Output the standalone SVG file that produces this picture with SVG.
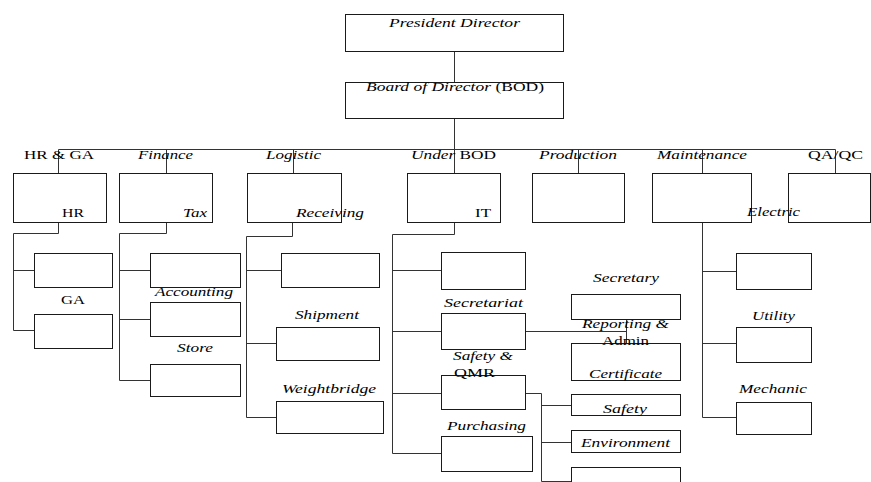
<svg xmlns="http://www.w3.org/2000/svg" width="871" height="482" viewBox="0 0 871 482">
<style>
rect{fill:#fff;stroke:#1a1a1a;stroke-width:1}
.c path{fill:none;stroke:#333;stroke-width:1}
text{font-family:"Liberation Serif","Times New Roman",serif;font-size:13px;fill:#000}
.i{font-style:italic}
</style>
<rect x="0" y="0" width="871" height="482" style="stroke:none;fill:#fff"/>
<g class="c" id="connectors">
<path d="M454.5,51 V82 M454.5,118 V149.5 M58.5,149.5 H835.5"/>
<path d="M58.5,149.5 V173 M166.5,149.5 V173 M293.5,149.5 V173 M454.5,149.5 V173 M578.5,149.5 V173 M702.5,149.5 V173 M835.5,149.5 V173"/>
<path d="M58.5,222 V233.5 H13.5 V330.5 M13.5,270.5 H34 M13.5,330.5 H34"/>
<path d="M166.5,222 V233.5 H119.5 V380.5 M119.5,270.5 H150 M119.5,319.5 H150 M119.5,380.5 H150"/>
<path d="M292.5,222 V236.5 H246.5 V417.5 M246.5,270.5 H281 M246.5,343.5 H276 M246.5,417.5 H276"/>
<path d="M454.5,222 V234.5 H392.5 V453.5 M392.5,270.5 H441 M392.5,331.5 H441 M392.5,393.5 H441 M392.5,453.5 H441"/>
<path d="M525,331.5 H626.5 M626.5,319 V343"/>
<path d="M525,393.5 H541.5 V481.5 M541.5,405.5 H571 M541.5,442.5 H571 M541.5,481.5 H571"/>
<path d="M702.5,222 V417.5 M702.5,271.5 H736 M702.5,343.5 H736 M702.5,417.5 H736"/>
</g>
<g id="president-director">
<rect x="345.5" y="14.5" width="218" height="37"/>
<text class="i" x="389" y="27" textLength="131" lengthAdjust="spacingAndGlyphs">President Director</text>
</g>
<g id="board-of-director">
<rect x="345.5" y="82.5" width="218" height="36"/>
<text x="366" y="91" textLength="178" lengthAdjust="spacingAndGlyphs"><tspan class="i">Board of Director</tspan> (BOD)</text>
</g>
<g id="hr-ga">
<text x="24" y="159" textLength="70" lengthAdjust="spacingAndGlyphs">HR &amp; GA</text>
<rect x="13.5" y="173.5" width="93" height="49"/>
<text x="62" y="217" textLength="22" lengthAdjust="spacingAndGlyphs">HR</text>
</g>
<g id="hr-sub">
<rect x="34.5" y="253.5" width="78" height="34"/>
</g>
<g id="ga">
<text x="61" y="304" textLength="24" lengthAdjust="spacingAndGlyphs">GA</text>
<rect x="34.5" y="314.5" width="78" height="34"/>
</g>
<g id="finance">
<text class="i" x="138" y="159" textLength="55" lengthAdjust="spacingAndGlyphs">Finance</text>
<rect x="119.5" y="173.5" width="93" height="49"/>
<text class="i" x="183" y="217" textLength="24" lengthAdjust="spacingAndGlyphs">Tax</text>
</g>
<g id="tax">
<rect x="150.5" y="253.5" width="90" height="34"/>
</g>
<g id="accounting">
<text class="i" x="155" y="296" textLength="78" lengthAdjust="spacingAndGlyphs">Accounting</text>
<rect x="150.5" y="302.5" width="90" height="34"/>
</g>
<g id="store">
<text class="i" x="177" y="352" textLength="36" lengthAdjust="spacingAndGlyphs">Store</text>
<rect x="150.5" y="364.5" width="90" height="32"/>
</g>
<g id="logistic">
<text class="i" x="266" y="159" textLength="55" lengthAdjust="spacingAndGlyphs">Logistic</text>
<rect x="247.5" y="173.5" width="94" height="49"/>
<text class="i" x="296" y="217" textLength="68" lengthAdjust="spacingAndGlyphs">Receiving</text>
</g>
<g id="receiving">
<rect x="281.5" y="253.5" width="98" height="34"/>
</g>
<g id="shipment">
<text class="i" x="295" y="319" textLength="64" lengthAdjust="spacingAndGlyphs">Shipment</text>
<rect x="276.5" y="327.5" width="103" height="33"/>
</g>
<g id="weightbridge">
<text class="i" x="282" y="393" textLength="94" lengthAdjust="spacingAndGlyphs">Weightbridge</text>
<rect x="276.5" y="401.5" width="107" height="32"/>
</g>
<g id="under-bod">
<text x="411" y="159" textLength="85" lengthAdjust="spacingAndGlyphs"><tspan class="i">Under</tspan> BOD</text>
<rect x="407.5" y="173.5" width="93" height="49"/>
<text x="475" y="217" textLength="16" lengthAdjust="spacingAndGlyphs">IT</text>
</g>
<g id="it">
<rect x="441.5" y="252.5" width="84" height="37"/>
</g>
<g id="secretariat">
<text class="i" x="444" y="307" textLength="79" lengthAdjust="spacingAndGlyphs">Secretariat</text>
<rect x="441.5" y="313.5" width="84" height="36"/>
</g>
<g id="safety-qmr">
<rect x="441.5" y="375.5" width="84" height="34"/>
<text class="i" x="453" y="360" textLength="60" lengthAdjust="spacingAndGlyphs">Safety &amp;</text>
<text x="454" y="377" textLength="41" lengthAdjust="spacingAndGlyphs">QMR</text>
</g>
<g id="purchasing">
<text class="i" x="447" y="430" textLength="79" lengthAdjust="spacingAndGlyphs">Purchasing</text>
<rect x="441.5" y="436.5" width="91" height="35"/>
</g>
<g id="secretary">
<text class="i" x="593" y="282" textLength="66" lengthAdjust="spacingAndGlyphs">Secretary</text>
<rect x="571.5" y="294.5" width="109" height="25"/>
</g>
<g id="reporting-admin">
<rect x="571.5" y="343.5" width="109" height="37"/>
<text class="i" x="582" y="328" textLength="87" lengthAdjust="spacingAndGlyphs">Reporting &amp;</text>
<text x="602" y="345" textLength="47" lengthAdjust="spacingAndGlyphs">Admin</text>
<text class="i" x="589" y="378" textLength="73" lengthAdjust="spacingAndGlyphs">Certificate</text>
</g>
<g id="safety">
<rect x="571.5" y="394.5" width="109" height="21"/>
<text class="i" x="603" y="413" textLength="44" lengthAdjust="spacingAndGlyphs">Safety</text>
</g>
<g id="environment">
<rect x="571.5" y="430.5" width="109" height="22"/>
<text class="i" x="581" y="447" textLength="89" lengthAdjust="spacingAndGlyphs">Environment</text>
</g>
<g id="safety-sub">
<rect x="571.5" y="467.5" width="109" height="20"/>
</g>
<g id="production">
<text class="i" x="539" y="159" textLength="78" lengthAdjust="spacingAndGlyphs">Production</text>
<rect x="532.5" y="173.5" width="92" height="49"/>
</g>
<g id="maintenance">
<text class="i" x="657" y="159" textLength="90" lengthAdjust="spacingAndGlyphs">Maintenance</text>
<rect x="652.5" y="173.5" width="99" height="49"/>
</g>
<g id="qa-qc">
<text x="808" y="159" textLength="55" lengthAdjust="spacingAndGlyphs">QA/QC</text>
<rect x="788.5" y="173.5" width="82" height="49"/>
</g>
<g id="electric">
<text class="i" x="747" y="216" textLength="53" lengthAdjust="spacingAndGlyphs">Electric</text>
<rect x="736.5" y="253.5" width="75" height="36"/>
</g>
<g id="utility">
<text class="i" x="752" y="320" textLength="43" lengthAdjust="spacingAndGlyphs">Utility</text>
<rect x="736.5" y="327.5" width="75" height="35"/>
</g>
<g id="mechanic">
<text class="i" x="739" y="393" textLength="68" lengthAdjust="spacingAndGlyphs">Mechanic</text>
<rect x="736.5" y="402.5" width="75" height="32"/>
</g>
</svg>
